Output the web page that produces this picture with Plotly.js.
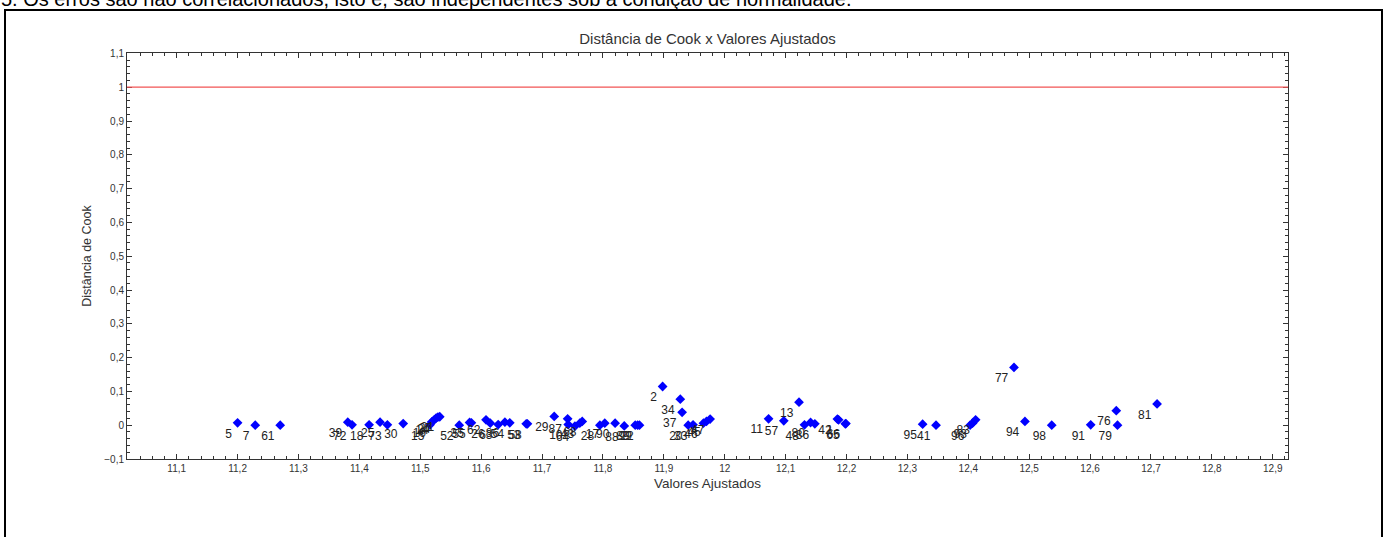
<!DOCTYPE html>
<html>
<head>
<meta charset="utf-8">
<script src="https://cdn.plot.ly/plotly-3.0.1.min.js"></script>
<style>
html,body{margin:0;padding:0;background:#fff;overflow:hidden}
#chart{width:1389px;height:537px}
</style>
</head>
<body>
<div id="chart"></div>
<script>
// ---- data ----
const fittedValues = [
  11.200, 11.229, 11.270, 11.381, 11.388, 11.416, 11.434, 11.446, 11.472,
  11.516, 11.519, 11.523, 11.526, 11.529, 11.532,
  11.564, 11.581, 11.584, 11.608, 11.615, 11.628, 11.639, 11.647, 11.674, 11.676,
  11.720, 11.742, 11.743, 11.754, 11.762, 11.766,
  11.795, 11.803, 11.820, 11.835, 11.853, 11.857, 11.860,
  11.898, 11.927, 11.930, 11.940, 11.948, 11.965, 11.970, 11.976,
  12.072, 12.097, 12.122, 12.131, 12.141, 12.148, 12.185, 12.187, 12.199, 12.198,
  12.325, 12.347, 12.403, 12.407, 12.412, 12.475, 12.493, 12.537, 12.601, 12.643, 12.645, 12.710
];
const cookDistance = [
  0.007, 0.000, 0.000, 0.009, 0.001, 0.001, 0.009, 0.001, 0.005,
  0.001, 0.010, 0.016, 0.021, 0.024, 0.025,
  0.000, 0.008, 0.007, 0.016, 0.006, 0.002, 0.009, 0.007, 0.004, 0.004,
  0.026, 0.019, 0.002, -0.003, 0.006, 0.011,
  0.000, 0.006, 0.006, -0.002, 0.000, 0.000, 0.000,
  0.1145, 0.077, 0.038, 0.000, 0.001, 0.006, 0.011, 0.018,
  0.019, 0.013, 0.068, 0.001, 0.008, 0.004, 0.018, 0.016, 0.005, 0.004,
  0.003, 0.000, 0.000, 0.006, 0.016, 0.171, 0.011, 0.000, 0.001, 0.043, 0.000, 0.063
];
const pointLabels = [
  "5", "7", "61", "39", "72", "18", "25", "73", "30",
  "15", "19", "14", "24", "27", "21",
  "52", "35", "55", "62", "26", "63", "86", "54", "53", "58",
  "29", "87", "10", "64", "43", "68",
  "28", "17", "90", "88", "89", "99", "22",
  "2", "34", "37", "20", "33", "46", "45", "47",
  "11", "57", "13", "48", "80", "36", "42", "1", "66", "65",
  "95", "41", "96", "93", "83", "77", "94", "98", "91", "76", "79", "81"
];
const cutoffValue = 1;
const chartTitle = "Distância de Cook x Valores Ajustados";
const xAxisTitle = "Valores Ajustados";
const yAxisTitle = "Distância de Cook";
const headerText = "5. Os erros são não correlacionados, isto é, são independentes sob a condição de normalidade.";

// ---- chart ----
const FONT = "Liberation Sans, Arial, sans-serif";
const axisColor = "#333333";

const trace = {
  type: "scatter",
  mode: "markers+text",
  x: fittedValues,
  y: cookDistance,
  text: pointLabels,
  textposition: "bottom left",
  textfont: {family: FONT, size: 12, color: "#222222"},
  marker: {symbol: "diamond", size: 7.5, color: "#0000ff", line: {width: 0}},
  cliponaxis: false,
  hoverinfo: "x+y+text"
};

function axisCommon() {
  return {
    showgrid: false,
    zeroline: false,
    showline: true,
    linecolor: axisColor,
    linewidth: 1,
    mirror: "ticks",
    ticks: "inside",
    ticklen: 5,
    tickwidth: 1,
    tickcolor: axisColor,
    tick0: 0,
    dtick: 0.1,
    tickfont: {family: FONT, size: 10, color: axisColor},
    minor: {ticks: "inside", ticklen: 3, tickwidth: 1, tickcolor: axisColor, tick0: 0, dtick: 0.02, showgrid: false}
  };
}

const xaxis = Object.assign(axisCommon(), {
  range: [11.0184, 12.925],
  title: {text: xAxisTitle, font: {family: FONT, size: 13.5, color: axisColor}, standoff: 5}
});
const yaxis = Object.assign(axisCommon(), {
  range: [-0.1, 1.1012],
  title: {text: yAxisTitle, font: {family: FONT, size: 12.5, color: axisColor}, standoff: 9}
});

const layout = {
  width: 1389,
  height: 537,
  margin: {l: 127, r: 101, t: 53, b: 78, pad: 0},
  paper_bgcolor: "#ffffff",
  plot_bgcolor: "#ffffff",
  separators: ",.",
  showlegend: false,
  title: {
    text: chartTitle,
    font: {family: FONT, size: 15, color: axisColor},
    x: 0.5, xref: "paper", xanchor: "center",
    y: 1 - 39 / 537, yref: "container", yanchor: "middle"
  },
  xaxis: xaxis,
  yaxis: yaxis,
  shapes: [
    {type: "line", xref: "paper", x0: 0, x1: 1, yref: "y", y0: cutoffValue, y1: cutoffValue,
     line: {color: "#f25555", width: 1.2}},
    {type: "rect", xref: "paper", yref: "paper",
     x0: (5 - 127) / 1161, x1: (1382 - 127) / 1161,
     y0: (459 - 560) / 406, y1: (459 - 10) / 406,
     line: {color: "#000000", width: 2}, fillcolor: "rgba(0,0,0,0)"}
  ],
  annotations: [
    {text: headerText, xref: "paper", yref: "paper",
     x: (0 - 127) / 1161, xanchor: "left",
     y: (459 - 11) / 406, yanchor: "bottom",
     showarrow: false, borderpad: 0,
     font: {family: FONT, size: 20, color: "#000000"}}
  ]
};

Plotly.newPlot("chart", [trace], layout, {displayModeBar: false, staticPlot: true});
</script>
</body>
</html>
